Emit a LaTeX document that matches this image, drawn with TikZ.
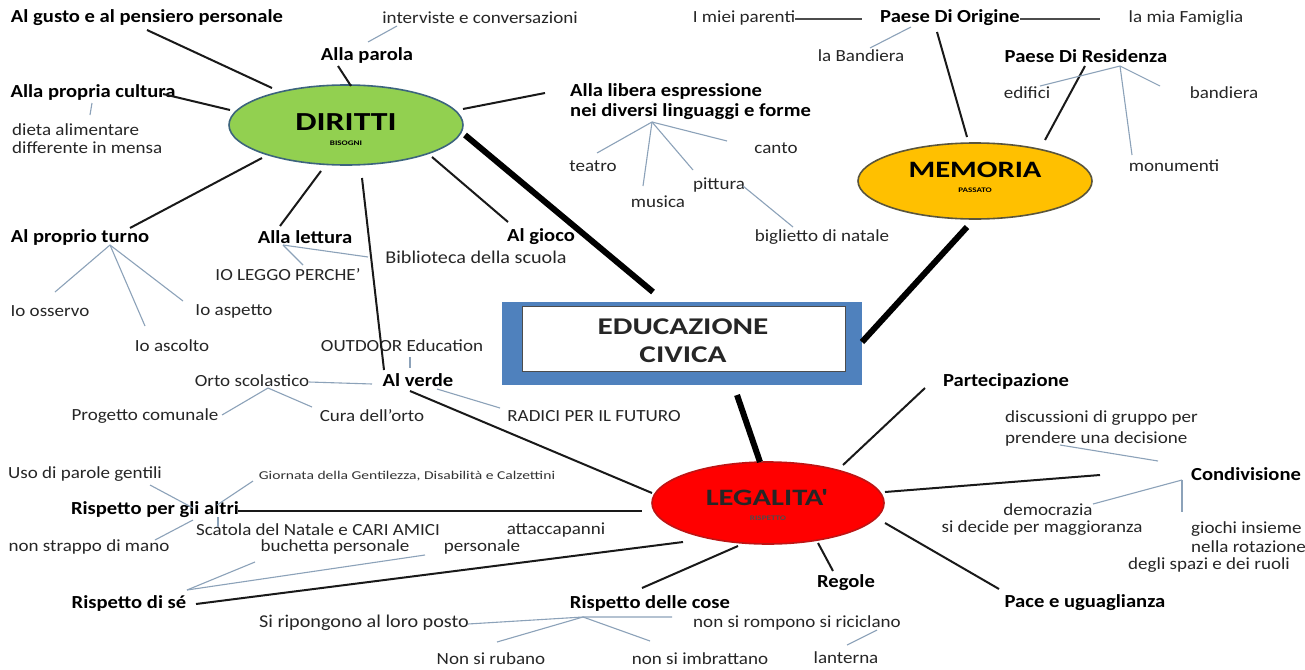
\documentclass[tikz,border=0pt]{standalone}
\usepackage{fontspec}
\setmainfont{Carlito}[FakeStretch=1.12]
\newfontfamily\widefont{Carlito}[FakeStretch=1.3]
\definecolor{grn}{RGB}{146,208,80}
\definecolor{grnb}{RGB}{60,100,125}
\definecolor{yel}{RGB}{255,192,0}
\definecolor{yelb}{RGB}{90,85,60}
\definecolor{rd}{RGB}{255,0,0}
\definecolor{rdb}{RGB}{190,20,20}
\definecolor{blu}{RGB}{79,129,189}
\definecolor{gln}{RGB}{140,162,185}
\tikzset{
  txt/.style={font=\fontsize{17}{18}\selectfont, inner sep=0pt, text=black!85},
  btxt/.style={font=\bfseries\fontsize{18.4}{20}\selectfont, inner sep=0pt},
  smalltxt/.style={font=\widefont\fontsize{12}{13}\selectfont, inner sep=0pt, text=black!80},
  bigtxt/.style={font=\widefont\bfseries\fontsize{26}{28}\selectfont, inner sep=0pt},
  midtxt/.style={font=\widefont\bfseries\fontsize{23.5}{25}\selectfont, inner sep=0pt},
  tinytxt/.style={font=\widefont\bfseries\fontsize{7}{8}\selectfont, inner sep=0pt},
  conn/.style={draw=black!90, line width=2pt},
  thickconn/.style={draw=black, line width=6pt},
  gconn/.style={draw=gln, line width=1.1pt},
  hub/.style={ellipse, draw, line width=1.6pt, minimum width=234pt, inner sep=0pt},
}
\usetikzlibrary{shapes.geometric}
\begin{document}
\begin{tikzpicture}[x=1pt,y=-1pt]
\useasboundingbox[fill=white] (0,0) rectangle (1305,669);

% ---------- hubs ----------
\node[hub, fill=grn, draw=grnb, minimum height=80pt] (diritti) at (346,125) {};
\node[bigtxt] (dirT) at (346,122) {DIRITTI};
\node[tinytxt] (dirS) at (346,143) {BISOGNI};

\node[hub, fill=yel, draw=yelb, minimum height=76pt] (memoria) at (975,181) {};
\node[midtxt] (memT) at (975,170) {MEMORIA};
\node[tinytxt] (memS) at (975,190) {PASSATO};

\node[hub, fill=rd, draw=rdb, minimum height=82pt, minimum width=232pt] (legal) at (768,503) {};
\node[midtxt, text=black!85] (legT) at (767,498) {LEGALITA'};
\node[tinytxt, text=black!70] (legS) at (768,518) {RISPETTO};

% central box
\node[fill=blu, minimum width=360pt, minimum height=83pt, inner sep=0pt] (boxout) at (682,343.5) {};
\node[fill=white, draw=black!70, line width=0.8pt, minimum width=323pt, minimum height=65pt, inner sep=0pt] (boxin) at (683.5,338.5) {};
\node[font=\widefont\bfseries\fontsize{24}{28}\selectfont, align=center, inner sep=0pt, text=black!85] (edu) at (683,341) {EDUCAZIONE\\CIVICA};

% ---------- texts ----------
\node[btxt] (gusto) at (147,18) {Al gusto e al pensiero personale};
\node[txt] (interv) at (480,18) {interviste e conversazioni};
\node[btxt] (parola) at (367,55) {Alla parola};
\node[btxt] (cultura) at (93,92) {Alla propria cultura};
\node[txt, anchor=west, align=left, font=\fontsize{17}{18}\selectfont] (dieta) at (12,139) {dieta alimentare\\differente in mensa};
\node[btxt, anchor=west, align=left, font=\bfseries\fontsize{18.4}{20}\selectfont] (libera) at (570,102) {Alla libera espressione\\nei diversi linguaggi e forme};
\node[txt] (teatro) at (593,166) {teatro};
\node[txt] (canto) at (776,148) {canto};
\node[txt] (musica) at (658,202) {musica};
\node[txt] (pittura) at (719,185) {pittura};
\node[txt] (biglietto) at (822,237) {biglietto di natale};

\node[txt] (parenti) at (744,18) {I miei parenti};
\node[btxt] (origine) at (950,18) {Paese Di Origine};
\node[txt] (famiglia) at (1186,18) {la mia Famiglia};
\node[txt] (bandiera1) at (861,56) {la Bandiera};
\node[btxt] (residenza) at (1086,56) {Paese Di Residenza};
\node[txt] (edifici) at (1027,93) {edifici};
\node[txt] (bandiera2) at (1224,93) {bandiera};
\node[txt] (monumenti) at (1174,166) {monumenti};

\node[btxt] (turno) at (80,237) {Al proprio turno};
\node[txt] (osservo) at (50,311) {Io osservo};
\node[txt] (ascolto) at (172,346) {Io ascolto};
\node[txt] (aspetto) at (234,311) {Io aspetto};
\node[btxt] (lettura) at (305,237) {Alla lettura};
\node[txt] (leggo) at (288,275) {IO LEGGO PERCHE’};
\node[txt, font=\fontsize{18}{19}\selectfont] (biblio) at (476,257) {Biblioteca della scuola};
\node[btxt] (gioco) at (541,237) {Al gioco};
\node[txt] (outdoor) at (402,346) {OUTDOOR Education};
\node[btxt] (verde) at (418,380) {Al verde};
\node[txt] (orto) at (252,381) {Orto scolastico};
\node[txt] (progetto) at (145,416) {Progetto comunale};
\node[txt] (cura) at (372,416) {Cura dell’orto};
\node[txt] (radici) at (594,416) {RADICI PER IL FUTURO};

\node[txt] (uso) at (85,474) {Uso di parole gentili};
\node[smalltxt] (giornata) at (407,476) {Giornata della Gentilezza, Disabilità e Calzettini};
\node[btxt] (altri) at (155,510) {Rispetto per gli altri};
\node[txt] (scatola) at (318,530) {Scatola del Natale e CARI AMICI};
\node[txt] (attacca) at (556,530) {attaccapanni};
\node[txt] (strappo) at (89,547) {non strappo di mano};
\node[txt] (buchetta) at (335,547) {buchetta personale};
\node[txt] (personale) at (482,547) {personale};
\node[btxt] (se) at (129,603) {Rispetto di sé};
\node[btxt] (cose) at (650,603) {Rispetto delle cose};
\node[txt, font=\fontsize{18}{19}\selectfont] (ripongono) at (364,623) {Si ripongono al loro posto};
\node[txt] (rubano) at (491,659) {Non si rubano};
\node[txt] (imbrattano) at (700,659) {non si imbrattano};
\node[txt] (rompono) at (797,623) {non si rompono si riciclano};
\node[txt] (lanterna) at (846,658) {lanterna};
\node[btxt] (regole) at (846,583) {Regole};
\node[btxt] (partec) at (1006,381) {Partecipazione};
\node[txt, anchor=west, align=left, font=\fontsize{17}{21}\selectfont] (discuss) at (1005,428) {discussioni di gruppo per\\prendere una decisione};
\node[btxt] (condiv) at (1246,474) {Condivisione};
\node[txt] (democ) at (1048,510) {democrazia};
\node[txt] (maggior) at (1042,528) {si decide per maggioranza};
\node[txt, anchor=west, align=left, font=\fontsize{17}{19}\selectfont] (giochi) at (1191,537) {giochi insieme\\nella rotazione};
\node[txt] (spazi) at (1209,565) {degli spazi e dei ruoli};
\node[btxt] (pace) at (1085,603) {Pace e uguaglianza};

% ---------- coordinates for connector ends ----------
\coordinate (gustoE) at (147,30);   \coordinate (dirA) at (272,88);
\coordinate (parolaE) at (338,66);  \coordinate (dirB) at (351,86);
\coordinate (culturaE) at (163,94); \coordinate (dirC) at (230,110);
\coordinate (turnoE) at (130,228);  \coordinate (dirD) at (262,158);
\coordinate (letturaE) at (280,226);\coordinate (dirE) at (321,171);
\coordinate (dirF) at (362,178);    \coordinate (verdeN) at (384,370);
\coordinate (dirG) at (432,157);    \coordinate (giocoE) at (508,222);
\coordinate (dirH) at (463,109);    \coordinate (liberaE) at (545,93);
\coordinate (dirI) at (465,135);    \coordinate (boxA) at (653,292);
\coordinate (memA) at (967,227);    \coordinate (boxB) at (862,342);
\coordinate (boxC) at (737,395);    \coordinate (legA) at (760,462);
\coordinate (origineS) at (937,32); \coordinate (memB) at (967,137);
\coordinate (residS) at (1085,66);  \coordinate (memC) at (1045,140);
\coordinate (parentiE) at (795,19); \coordinate (origineW) at (862,19);
\coordinate (origineE) at (1020,19);\coordinate (famigliaW) at (1100,19);
\coordinate (verdeS) at (410,391);  \coordinate (legB) at (652,493);
\coordinate (altriE) at (238,511);  \coordinate (legC) at (642,511);
\coordinate (seE) at (196,604);     \coordinate (legD) at (683,542);
\coordinate (coseN) at (642,588);   \coordinate (legE) at (738,546);
\coordinate (legF) at (818,543);    \coordinate (regoleN) at (833,571);
\coordinate (legG) at (843,465);    \coordinate (partecE) at (925,388);
\coordinate (legH) at (885,492);    \coordinate (condivE) at (1100,475);
\coordinate (legI) at (885,523);    \coordinate (paceE) at (999,589);

% ---------- black connectors ----------
\draw[conn] (gustoE) -- (dirA);
\draw[conn] (parolaE) -- (dirB);
\draw[conn] (culturaE) -- (dirC);
\draw[conn] (turnoE) -- (dirD);
\draw[conn] (letturaE) -- (dirE);
\draw[conn] (dirF) -- (verdeN);
\draw[conn] (dirG) -- (giocoE);
\draw[conn] (dirH) -- (liberaE);
\draw[thickconn] (dirI) -- (boxA);
\draw[thickconn] (memA) -- (boxB);
\draw[thickconn] (boxC) -- (legA);
\draw[conn] (origineS) -- (memB);
\draw[conn] (residS) -- (memC);
\draw[conn, line width=1.2pt, draw=black!70] (parentiE) -- (origineW);
\draw[conn, line width=1.2pt, draw=black!70] (origineE) -- (famigliaW);
\draw[conn] (verdeS) -- (legB);
\draw[conn] (altriE) -- (legC);
\draw[conn] (seE) -- (legD);
\draw[conn] (coseN) -- (legE);
\draw[conn] (legF) -- (regoleN);
\draw[conn] (legG) -- (partecE);
\draw[conn] (legH) -- (condivE);
\draw[conn] (legI) -- (paceE);

% ---------- grey connectors ----------
\coordinate (g1a) at (368,42);  \coordinate (g1b) at (397,26);
\draw[gconn] (g1a) -- (g1b);
\coordinate (g2a) at (92,103);  \coordinate (g2b) at (90,115);
\draw[gconn] (g2a) -- (g2b);
\coordinate (libHub) at (652,122);
\coordinate (teatroN) at (597,153); \coordinate (musicaN) at (643,186);
\coordinate (pitturaN) at (693,170); \coordinate (cantoW) at (727,141);
\draw[gconn] (libHub) -- (teatroN);
\draw[gconn] (libHub) -- (musicaN);
\draw[gconn] (libHub) -- (pitturaN);
\draw[gconn] (libHub) -- (cantoW);
\coordinate (pitturaE) at (743,186); \coordinate (bigliettoN) at (793,227);
\draw[gconn] (pitturaE) -- (bigliettoN);
\coordinate (origineB) at (911,27); \coordinate (bandieraN) at (870,48);
\draw[gconn] (origineB) -- (bandieraN);
\coordinate (resHub) at (1120,66);
\coordinate (edificiE) at (1040,86); \coordinate (bandieraW) at (1160,86);
\coordinate (monumentiN) at (1132,155);
\draw[gconn] (resHub) -- (edificiE);
\draw[gconn] (resHub) -- (bandieraW);
\draw[gconn] (resHub) -- (monumentiN);
\coordinate (turHub) at (110,245);
\coordinate (osservoN) at (55,292); \coordinate (ascoltoN) at (145,326);
\coordinate (aspettoN) at (183,301);
\draw[gconn] (turHub) -- (osservoN);
\draw[gconn] (turHub) -- (ascoltoN);
\draw[gconn] (turHub) -- (aspettoN);
\coordinate (letHub) at (283,245);
\coordinate (biblioW) at (368,257); \coordinate (leggoN) at (303,265);
\draw[gconn] (letHub) -- (biblioW);
\draw[gconn] (letHub) -- (leggoN);
\coordinate (outdoorS) at (410,357); \coordinate (verdeT) at (410,368);
\draw[gconn] (outdoorS) -- (verdeT);
\coordinate (ortoE) at (309,382); \coordinate (verdeW) at (372,384);
\draw[gconn] (ortoE) -- (verdeW);
\coordinate (ortoHub) at (268,388);
\coordinate (progettoE) at (222,415); \coordinate (curaN) at (312,407);
\draw[gconn] (ortoHub) -- (progettoE);
\draw[gconn] (ortoHub) -- (curaN);
\coordinate (verdeE) at (437,389); \coordinate (radiciW) at (500,408);
\draw[gconn] (verdeE) -- (radiciW);
\coordinate (usoS) at (150,485); \coordinate (altriA) at (193,508);
\draw[gconn] (usoS) -- (altriA);
\coordinate (giornataW) at (253,481); \coordinate (altriB) at (217,505);
\draw[gconn] (giornataW) -- (altriB);
\coordinate (altriC) at (218,517); \coordinate (scatolaW) at (218,527);
\draw[gconn] (altriC) -- (scatolaW);
\coordinate (strappoN) at (155,540); \coordinate (altriD) at (193,520);
\draw[gconn] (strappoN) -- (altriD);
\coordinate (seHub) at (187,590);
\coordinate (buchettaS) at (255,562); \coordinate (personaleS) at (425,555);
\draw[gconn] (seHub) -- (buchettaS);
\draw[gconn] (seHub) -- (personaleS);
\coordinate (ripongonoE) at (468,624); \coordinate (coseHub) at (583,617);
\coordinate (coseR) at (672,617);
\coordinate (rubanoN) at (497,642); \coordinate (imbrattanoN) at (650,641);
\draw[gconn] (ripongonoE) -- (coseHub) -- (coseR);
\draw[gconn] (coseHub) -- (rubanoN);
\draw[gconn] (coseHub) -- (imbrattanoN);
\coordinate (lanternaN) at (847,645); \coordinate (romponoS) at (877,630);
\draw[gconn] (lanternaN) -- (romponoS);
\coordinate (discussS) at (1060,445); \coordinate (condivA) at (1158,461);
\draw[gconn] (discussS) -- (condivA);
\coordinate (condHub) at (1182,480);
\coordinate (democE) at (1093,504); \coordinate (giochiN) at (1182,512);
\draw[gconn] (condHub) -- (democE);
\draw[gconn] (condHub) -- (giochiN);
\end{tikzpicture}
\end{document}
